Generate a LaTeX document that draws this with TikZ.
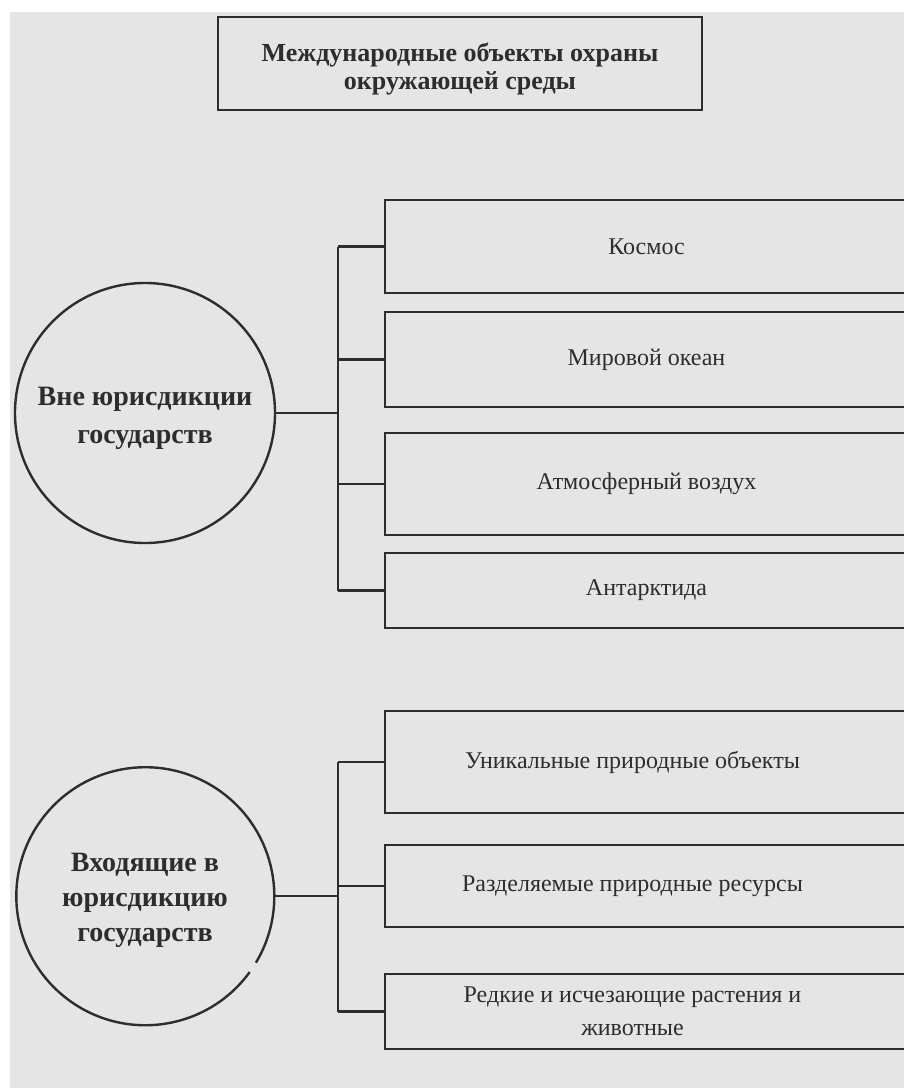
\documentclass[tikz,border=0pt]{standalone}
\usepackage{fontspec}
\setmainfont{Liberation Serif}
\definecolor{bg}{RGB}{229,229,229}
\definecolor{ink}{RGB}{45,45,45}
\begin{document}
\begin{tikzpicture}[x=0.5pt,y=-0.5pt,
  ln/.style={draw=ink,line width=1.2pt},
  objbox/.style={ln, rectangle, inner sep=2pt, minimum width=261.5pt, align=center, text=ink, font=\fontsize{12}{16.5}\selectfont},
  circ/.style={circle, inner sep=0pt, align=center, text=ink, font=\bfseries\fontsize{14}{19}\selectfont},
]
\useasboundingbox (0,0) rectangle (904,1088);
\clip (0,0) rectangle (904,1088);
\fill[white] (0,0) rectangle (904,1088);
\fill[bg] (10,12) rectangle (904,1088);

\node[ln, rectangle, minimum width=242pt, minimum height=46.5pt, align=center, text=ink,
  font=\bfseries\fontsize{13}{14}\selectfont] (title) at (460,63.5)
  {\rule{0pt}{15pt}Международные объекты охраны\\окружающей среды};

% group 1
\node[circ, ln, minimum size=130pt] (c1) at (145,413) {\rule{0pt}{14.5pt}Вне юрисдикции\\государств};
\coordinate (j1) at (338,413);
\node[objbox, minimum height=46.5pt] (k1) at (646.5,246.5) {Космос};
\node[objbox, minimum height=47.5pt] (k2) at (646.5,359.5) {Мировой океан};
\node[objbox, minimum height=51pt]   (k3) at (646.5,484) {Атмосферный воздух};
\node[objbox, minimum height=37.5pt] (k4) at (646.5,590.5) {Антарктида};
\draw[ln] (c1.east) -- (j1);
\draw[ln] (k1.west -| j1) -- (k4.west -| j1);
\foreach \b in {k1,k2,k3,k4} \draw[ln] (\b.west -| j1) -- (\b.west);

% group 2
\node[circ, minimum size=129pt, font=\bfseries\fontsize{14}{17.5}\selectfont] (c2) at (145,896) {\rule{0pt}{13.5pt}Входящие в\\юрисдикцию\\государств};
\draw[ln] (c2.-36) arc[start angle=-36, delta angle=-355, radius=64.5pt];
\coordinate (j2) at (338,896);
\node[objbox, minimum height=51pt]   (m1) at (646.5,762) {Уникальные природные объекты\kern14pt};
\node[objbox, minimum height=41pt]   (m2) at (646.5,886) {Разделяемые природные ресурсы\kern14pt};
\node[objbox, minimum height=37.5pt] (m3) at (646.5,1011.5) {Редкие и исчезающие растения и\kern14pt\\животные\kern14pt};
\draw[ln] (c2.east) -- (j2);
\draw[ln] (m1.west -| j2) -- (m3.west -| j2);
\foreach \b in {m1,m2,m3} \draw[ln] (\b.west -| j2) -- (\b.west);
\end{tikzpicture}
\end{document}
